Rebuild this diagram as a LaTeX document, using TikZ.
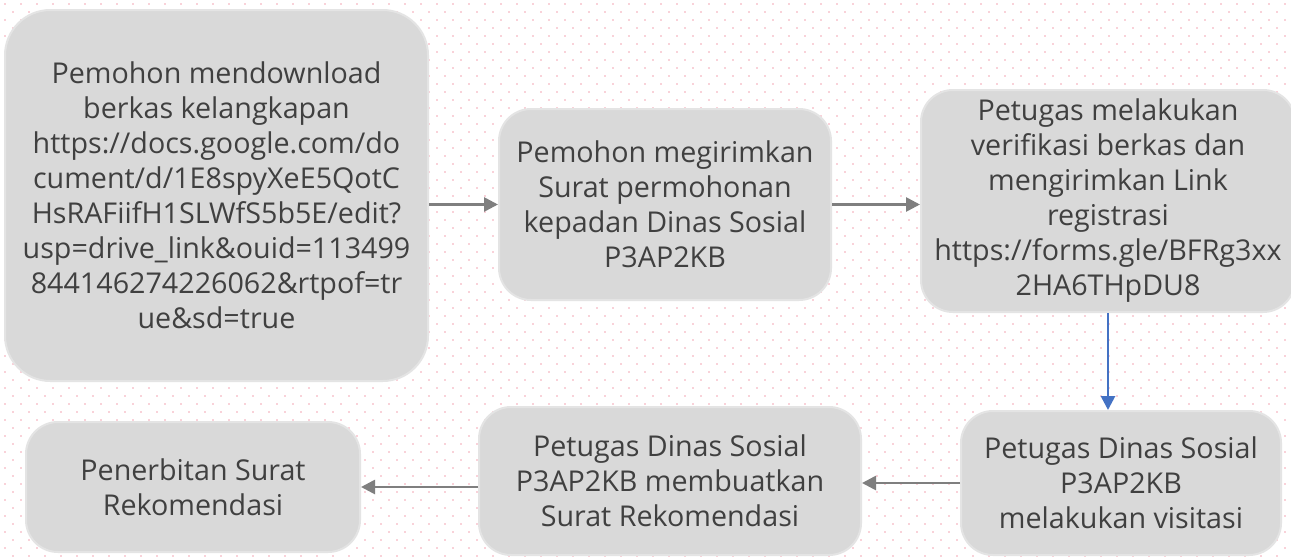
\documentclass[tikz,border=0pt]{standalone}
\usepackage{fontspec}
\setmainfont{Open Sans}
\usetikzlibrary{arrows.meta}
\definecolor{boxfill}{HTML}{D9D9D9}
\definecolor{boxline}{HTML}{E4E4E4}
\definecolor{textgray}{HTML}{404040}
\definecolor{arrowgray}{HTML}{7F7F7F}
\definecolor{arrowblue}{HTML}{4472C4}
\definecolor{dotpink}{HTML}{F9D2D9}
\tikzset{
  stepbox/.style={draw=boxline, line width=1.5pt, fill=boxfill, rounded corners=24pt,
    align=center, text=textgray, font=\fontsize{21.5}{26.25}\selectfont, inner sep=0pt},
  flow/.style={draw=arrowgray, line width=2pt, -{Triangle[length=10.5pt,width=10.5pt]}},
  flowblue/.style={flow, draw=arrowblue, -{Triangle[length=10.5pt,width=10.5pt,fill=arrowblue]}}
}
\begin{document}
\begin{tikzpicture}[x=0.75pt,y=-0.75pt]
    \useasboundingbox (0,0) rectangle (1291,557);
    \fill[white] (0,0) rectangle (1291,557);
    \foreach \j in {0,...,34}
    {\foreach \k in {0,...,80}
    {\fill[dotpink] (4+16*\k,3+16*\j) rectangle ++(2,2);
     \fill[dotpink] (12+16*\k,11+16*\j) rectangle ++(2,2);}}
    \node[stepbox, rounded corners=34pt, minimum width=317.25pt, minimum height=278.25pt] (download) at (216.5,195.5)
      {Pemohon mendownload\\berkas kelangkapan\\https://docs.google.com/do\\cument/d/1E8spyXeE5QotC\\HsRAFiifH1SLWfS5b5E/edit?\\usp=drive\_link\&ouid=113499\\844146274226062\&rtpof=tr\\ue\&sd=true};
    \node[stepbox, minimum width=249pt, minimum height=143.25pt] (kirim) at (665,204.5)
      {Pemohon megirimkan\\Surat permohonan\\kepadan Dinas Sosial\\P3AP2KB};
    \node[stepbox, minimum width=280.5pt, minimum height=166.5pt] (verif) at (1108,201)
      {Petugas melakukan\\verifikasi berkas dan\\mengirimkan Link\\registrasi\\https://forms.gle/BFRg3xx\\2HA6THpDU8};
    \node[stepbox, minimum width=240pt, minimum height=108pt] (visit) at (1121,483)
      {Petugas Dinas Sosial\\P3AP2KB\\melakukan visitasi};
    \node[stepbox, minimum width=286.5pt, minimum height=111pt] (buat) at (670,481)
      {Petugas Dinas Sosial\\P3AP2KB membuatkan\\Surat Rekomendasi};
    \node[stepbox, minimum width=250.5pt, minimum height=97.5pt] (terbit) at (193,487)
      {Penerbitan Surat\\Rekomendasi};
    \draw[flow] (download.east |- kirim.west) -- (kirim.west);
    \draw[flow] (kirim.east) -- (verif.west |- kirim.east);
    \draw[flowblue] (verif.south) -- (verif.south |- visit.north);
    \draw[flow] (visit.west) -- (buat.east |- visit.west);
    \draw[flow] (buat.west |- terbit.east) -- (terbit.east);
\end{tikzpicture}
\end{document}
